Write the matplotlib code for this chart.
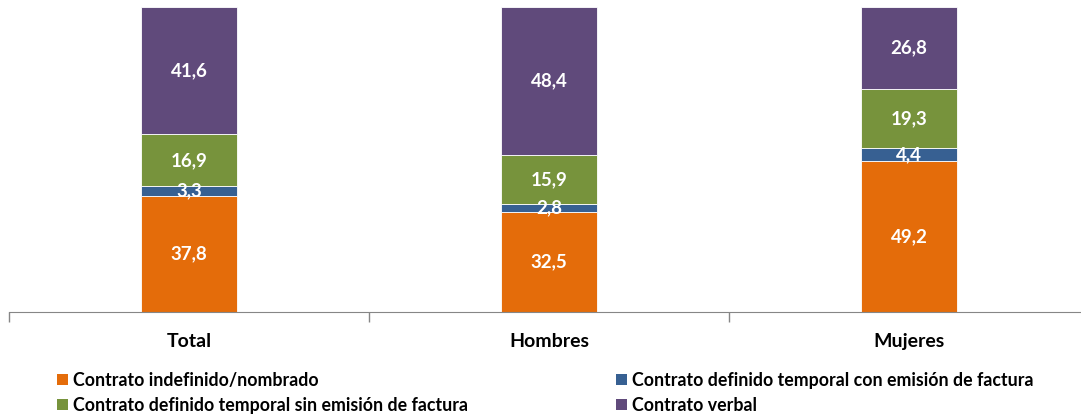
import matplotlib
matplotlib.use("Agg")
import matplotlib.pyplot as plt
from matplotlib.patches import Patch
import numpy as np

# Data
categories = ["Total", "Hombres", "Mujeres"]
series_names = [
    "Contrato indefinido/nombrado",
    "Contrato definido temporal con emisión de factura",
    "Contrato definido temporal sin emisión de factura",
    "Contrato verbal",
]
indefinido = [37.8, 32.5, 49.2]
con_factura = [3.3, 2.8, 4.4]
sin_factura = [16.9, 15.9, 19.3]
verbal = [41.6, 48.4, 26.8]
colors = ["#E46C0A", "#376092", "#77933C", "#604A7B"]

plt.rcParams["font.family"] = ["Lato", "DejaVu Sans"]

W, H = 1081, 416
fig = plt.figure(figsize=(W / 100, H / 100), dpi=100)
# axis runs from x=9 to x=1089 px (beyond right edge), baseline at y=312
ax = fig.add_axes([9 / W, (H - 312) / H, 1080 / W, 312 / H])

x = np.arange(len(categories))
bottom = np.zeros(len(categories))
for vals, col in zip([indefinido, con_factura, sin_factura, verbal], colors):
    bars = ax.bar(x, vals, width=0.267, bottom=bottom, color=col,
                  edgecolor="white", linewidth=0.6)
    for b, v, y0 in zip(bars, vals, bottom):
        ax.text(b.get_x() + b.get_width() / 2, y0 + v / 2,
                f"{v:.1f}".replace(".", ","), ha="center", va="center",
                color="white", fontsize=13.5, fontweight="bold")
    bottom += np.array(vals)

ax.set_xlim(-0.5, 2.5)
ax.set_ylim(0, 101.9)
for s in ["top", "right", "left"]:
    ax.spines[s].set_visible(False)
ax.spines["bottom"].set_color("#868686")
ax.set_yticks([])
ax.set_xticks(x)
ax.set_xticklabels(categories, fontsize=14, fontweight="bold")
ax.tick_params(axis="x", which="major", length=0, pad=15)
ax.set_xticks([-0.5, 0.5, 1.5, 2.5], minor=True)
ax.tick_params(axis="x", which="minor", length=7, color="#868686", width=1)

handles = [Patch(facecolor=c) for c in colors]
leg_kw = dict(frameon=False, handlelength=0.6, handleheight=0.6,
              handletextpad=0.3, labelspacing=0.45, borderpad=0, borderaxespad=0,
              prop={"weight": "bold", "size": 12.8})
fig.legend([handles[0], handles[2]], [series_names[0], series_names[2]],
           loc="upper left", bbox_to_anchor=(57 / W, 1 - 372 / H), **leg_kw)
fig.legend([handles[1], handles[3]], [series_names[1], series_names[3]],
           loc="upper left", bbox_to_anchor=(616 / W, 1 - 372 / H), **leg_kw)

fig.savefig("out.png", dpi=100)
